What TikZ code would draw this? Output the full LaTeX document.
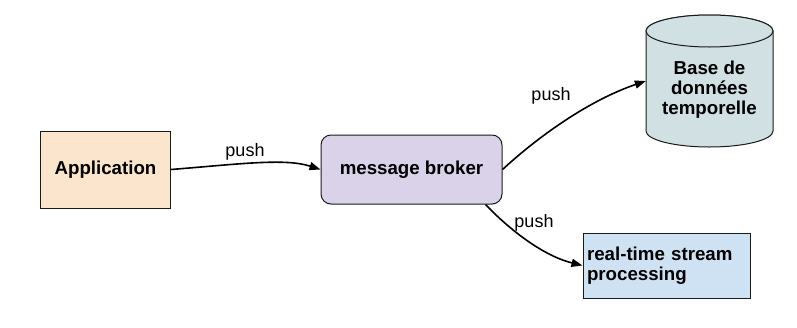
\documentclass[tikz,border=0pt]{standalone}
\usepackage{fontspec}
\setmainfont{Liberation Sans}
\usetikzlibrary{arrows.meta}
\definecolor{appfill}{HTML}{FCE5CD}
\definecolor{brokerfill}{HTML}{D9D2E9}
\definecolor{dbfill}{HTML}{D0E0E3}
\definecolor{rtfill}{HTML}{CFE2F3}
\definecolor{edge}{HTML}{1A1A1A}
\begin{document}
\begin{tikzpicture}[x=1pt,y=-1pt,
  box/.style={draw=edge, line width=1pt, inner sep=0pt, font=\fontsize{18.7}{20}\selectfont\bfseries},
  conn/.style={line width=1.6pt, draw=black, -{Triangle[length=11pt,width=8pt]}},
  lbl/.style={font=\fontsize{18}{20}\selectfont, inner sep=0pt}]
\useasboundingbox (0,0) rectangle (797,327);
% nodes
\node[box, fill=appfill, minimum width=130pt, minimum height=77pt] (app) at (105.5,169.5) {Application};
\node[box, fill=brokerfill, rounded corners=10pt, minimum width=181pt, minimum height=69pt] (broker) at (411.5,169.5) {message broker};
\node[box, fill=rtfill, minimum width=167pt, minimum height=65pt, align=left, text width=159pt] (rt) at (666.5,265.5) {real-time stream\\processing};
% cylinder
\node[minimum width=127pt, minimum height=132pt, inner sep=0pt] (db) at (709.5,81) {};
\path[draw=edge, line width=1pt, fill=dbfill]
  (646,31) -- (646,131) arc[start angle=180, end angle=360, x radius=63.5pt, y radius=16pt]
  -- (773,31) arc[start angle=0, end angle=180, x radius=63.5pt, y radius=16pt] -- cycle;
\draw[draw=edge, line width=1pt, fill=dbfill] (709.5,31) ellipse[x radius=63.5pt, y radius=16pt];
\node[font=\fontsize{18.7}{20}\selectfont\bfseries, align=center, inner sep=0pt] (dbtext) at (709.5,90) {Base de\\données\\temporelle};
% connectors
\draw[conn] (app.east) .. controls (240,164) and (285,158) .. (broker.west);
\draw[conn] (broker.east) .. controls (540,135) and (590,100) .. (db.west);
\coordinate (bs) at ([xshift=-17pt]broker.south east);
\draw[conn] (bs) .. controls (505,225) and (540,255) .. (rt.west);
% labels
\node[lbl] (l1) at (245,152) {push};
\node[lbl] (l2) at (551,96) {push};
\node[lbl] (l3) at (534,223) {push};
\end{tikzpicture}
\end{document}
